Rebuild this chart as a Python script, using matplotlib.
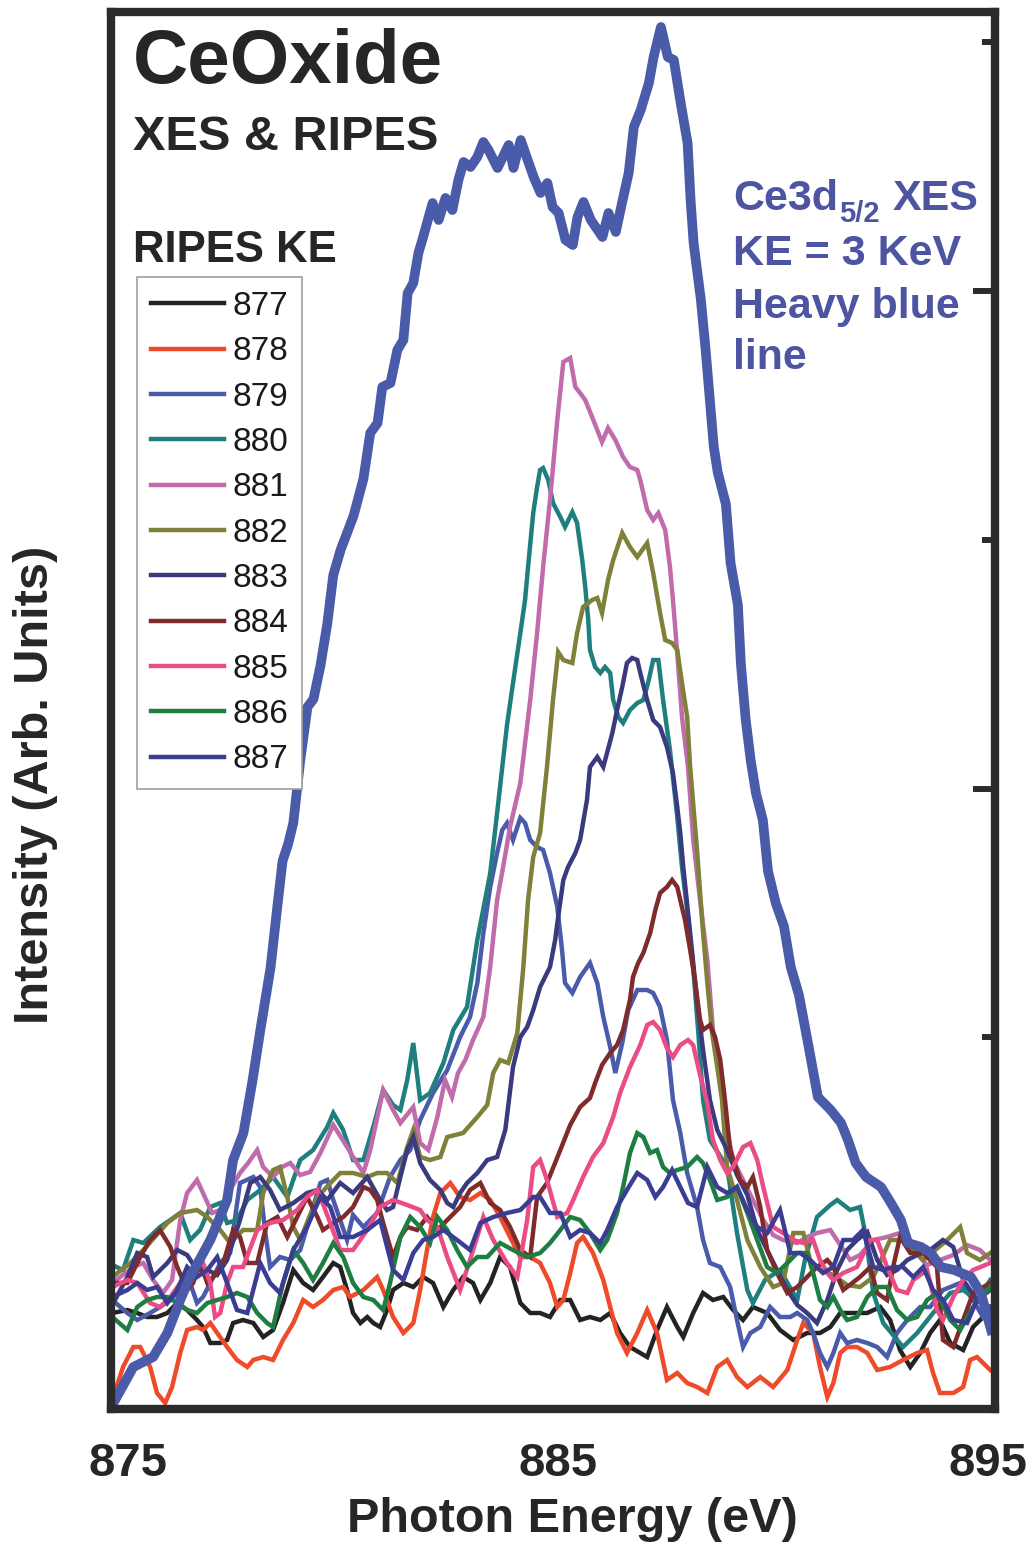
import matplotlib
matplotlib.use("Agg")
import matplotlib.pyplot as plt
from matplotlib.font_manager import FontProperties

plt.rcParams['font.family'] = ['Liberation Sans', 'DejaVu Sans']

# ---------------- data (photon energy in eV, intensity in arb. units) ----------------
ke_labels = ['877', '878', '879', '880', '881', '882', '883', '884', '885', '886', '887']
ke_colors = ['#232323', '#ee4b2b', '#4a5bab', '#1f7f7f', '#c06bab', '#7f8039',
             '#3a3a7e', '#7f2b2b', '#ea4c85', '#1e7e42', '#3b3d92']

x_xes = [874.63,875.12,875.58,875.91,876.21,876.44,876.91,877.30,877.44,877.68,
         877.89,878.07,878.31,878.47,878.59,878.72,878.84,879.00,879.17,879.31,
         879.47,879.63,879.77,879.94,880.24,880.47,880.63,880.80,880.91,881.10,
         881.26,881.40,881.50,881.63,881.75,881.84,882.08,882.22,882.38,882.54,
         882.68,882.80,882.96,883.12,883.26,883.38,883.59,883.85,883.96,884.13,
         884.29,884.43,884.59,884.75,884.87,885.01,885.17,885.34,885.45,885.59,
         885.76,886.03,886.17,886.34,886.50,886.64,886.76,886.92,887.11,887.22,
         887.39,887.55,887.69,887.85,888.01,888.08,888.15,888.32,888.43,888.62,
         888.71,888.90,889.01,889.18,889.25,889.36,889.48,889.60,889.76,889.88,
         890.06,890.25,890.41,890.60,890.81,891.04,891.34,891.58,891.74,891.92,
         892.16,892.51,892.74,892.97,893.14,893.44,893.67,893.90,894.21,894.60,
         894.83,895.07]
y_xes = [0.4,4.2,5.2,7.6,10.9,13.2,16.9,20.9,24.9,27.6,
         32.8,37.8,44.1,50.3,54.8,56.5,58.6,64.8,70.2,71.0,
         74.3,78.5,83.4,85.9,89.3,93.0,97.6,98.6,102.2,102.6,
         105.9,106.9,111.6,112.6,115.6,116.9,120.6,118.9,121.1,119.9,
         122.9,124.7,124.2,125.2,126.7,125.9,124.1,126.4,124.1,126.9,
         124.9,123.2,121.6,122.6,120.2,119.6,116.9,116.4,119.2,120.7,
         118.9,117.2,119.6,117.7,120.9,123.6,128.2,129.9,132.6,135.2,
         138.2,135.2,134.9,130.6,126.6,120.9,116.6,110.9,105.9,96.2,
         93.7,90.5,84.6,80.4,74.5,69.0,64.8,61.6,58.9,53.8,
         50.6,48.3,44.2,41.4,36.6,31.2,29.9,28.6,26.9,24.6,
         23.2,22.2,20.6,18.9,16.6,16.2,15.6,14.2,13.9,13.2,
         11.6,7.9]

x877 = [874.63,874.98,875.21,875.44,875.67,875.91,876.14,876.37,876.60,876.74,
        876.91,877.14,877.30,877.44,877.67,877.91,878.14,878.37,878.60,878.84,
        879.07,879.30,879.53,879.77,879.93,880.09,880.23,880.40,880.56,880.70,
        880.86,881.02,881.16,881.40,881.63,881.86,882.09,882.33,882.56,882.79,
        883.02,883.19,883.42,883.65,883.88,884.12,884.35,884.58,884.81,885.05,
        885.28,885.51,885.74,885.98,886.21,886.44,886.67,886.91,887.07,887.30,
        887.53,887.77,887.91,888.14,888.37,888.60,888.84,889.07,889.30,889.53,
        889.86,890.16,890.47,890.79,891.09,891.33,891.56,891.86,892.19,892.49,
        892.72,892.95,893.19,893.42,893.65,893.88,894.12,894.42,894.65,895.05]
y877 = [9.6,9.9,9.6,9.2,9.2,9.6,10.6,9.9,8.9,8.2,
        6.6,6.6,6.9,8.6,8.9,8.6,7.2,7.9,10.6,13.9,
        12.6,11.9,13.2,14.6,14.2,11.9,9.6,8.6,9.2,8.6,
        8.2,9.9,11.9,12.6,12.2,13.2,12.6,10.2,11.9,13.2,
        12.6,10.9,12.6,15.2,14.2,10.6,9.6,9.6,9.2,10.9,
        10.9,8.9,9.2,8.9,9.6,7.6,6.2,5.6,5.2,7.9,
        10.2,8.2,7.2,9.6,11.6,10.9,11.2,9.9,8.9,10.2,
        9.6,7.9,6.9,7.6,7.6,8.2,9.6,9.6,9.6,10.2,
        8.9,5.9,4.2,5.6,7.6,8.9,6.6,5.9,8.2,9.9]

x878 = [874.63,874.88,875.12,875.28,875.51,875.67,875.86,876.02,876.21,876.37,
        876.60,876.74,876.91,877.07,877.30,877.53,877.77,877.91,878.14,878.37,
        878.60,878.84,879.07,879.30,879.53,879.77,880.00,880.16,880.47,880.79,
        880.93,881.16,881.40,881.63,881.79,881.95,882.09,882.26,882.49,882.72,
        882.95,883.19,883.42,883.65,883.88,884.12,884.35,884.58,884.81,884.98,
        885.12,885.28,885.44,885.58,885.81,886.05,886.21,886.37,886.60,886.84,
        887.07,887.30,887.53,887.77,888.00,888.23,888.47,888.70,888.93,889.16,
        889.40,889.70,890.00,890.33,890.56,890.70,890.93,891.09,891.26,891.40,
        891.56,891.72,891.95,892.19,892.42,892.72,893.02,893.35,893.58,893.72,
        893.88,894.19,894.42,894.58,894.74,895.05]
y878 = [0.9,4.2,6.2,6.2,4.2,1.6,0.6,2.2,5.6,7.9,
        8.2,7.9,8.6,7.6,6.2,4.9,4.2,4.9,5.2,4.9,
        6.9,8.6,10.9,10.2,10.9,11.9,12.2,11.2,11.9,13.2,
        11.9,9.2,7.6,8.6,11.9,15.9,19.2,21.6,22.6,21.2,
        20.9,21.6,20.9,19.2,17.2,15.2,15.2,14.6,12.6,10.2,
        10.9,13.6,16.6,17.2,15.6,12.9,10.2,7.6,5.6,7.6,
        9.9,7.6,2.9,3.6,2.6,2.2,1.6,4.2,4.9,3.2,
        2.2,3.2,2.2,3.9,6.9,8.6,7.6,4.2,1.2,2.6,
        5.6,6.2,6.2,5.6,3.9,4.2,4.9,5.6,5.9,3.6,
        1.6,1.6,2.2,4.9,5.2,3.9]

x879 = [874.63,874.98,875.21,875.51,875.74,875.98,876.21,876.44,876.60,876.74,
        876.91,877.14,877.37,877.60,877.91,878.07,878.19,878.30,878.53,878.77,
        879.00,879.30,879.47,879.63,879.77,880.09,880.23,880.47,880.79,881.09,
        881.33,881.56,881.79,882.09,882.42,882.72,882.95,883.12,883.26,883.42,
        883.58,883.70,883.81,883.95,884.12,884.23,884.35,884.51,884.65,884.81,
        884.98,885.09,885.16,885.33,885.51,885.74,885.91,886.05,886.21,886.33,
        886.49,886.63,886.84,887.07,887.21,887.37,887.53,887.67,887.84,888.00,
        888.23,888.37,888.53,888.77,889.00,889.16,889.30,889.47,889.70,889.93,
        890.16,890.40,890.56,890.79,890.93,891.09,891.26,891.40,891.56,891.72,
        891.95,892.19,892.42,892.65,892.88,893.12,893.42,893.65,893.95,894.35,
        894.65,894.88,895.05]
y879 = [10.9,9.6,8.9,9.6,10.2,10.9,11.9,12.6,10.6,11.2,
        12.6,14.6,15.6,22.6,23.2,22.2,17.6,14.2,15.2,14.9,
        15.9,20.2,22.6,22.9,20.9,16.9,19.4,18.2,19.6,23.2,
        24.9,25.9,28.9,31.6,33.9,37.2,39.2,42.6,47.6,52.2,
        55.6,57.9,58.6,56.9,59.1,58.6,56.9,56.2,55.9,53.6,
        50.2,45.9,42.6,41.6,43.2,44.6,42.6,39.2,36.2,33.6,
        36.6,39.9,41.9,41.9,41.6,40.2,36.9,30.9,27.6,23.6,
        20.2,16.9,14.6,14.2,12.2,8.9,6.2,7.6,8.2,10.2,
        9.2,9.2,9.6,8.9,7.6,5.6,4.2,5.6,7.6,6.6,
        6.9,6.6,6.2,5.2,7.6,8.9,10.2,10.2,11.9,12.6,
        10.9,9.2,10.2]

x880 = [874.63,874.88,875.12,875.35,875.74,875.98,876.21,876.44,876.67,876.91,
        877.14,877.30,877.53,877.77,878.07,878.37,878.70,879.00,879.30,879.63,
        879.77,880.00,880.23,880.47,880.70,880.93,881.16,881.33,881.49,881.63,
        881.79,882.02,882.33,882.56,882.88,883.12,883.42,883.58,883.81,883.95,
        884.12,884.23,884.30,884.42,884.51,884.58,884.65,884.77,884.88,885.05,
        885.16,885.33,885.44,885.56,885.63,885.70,885.74,885.86,885.98,886.09,
        886.21,886.28,886.40,886.51,886.67,886.84,886.98,887.09,887.21,887.33,
        887.44,887.60,887.77,887.88,888.02,888.14,888.26,888.37,888.53,888.93,
        889.16,889.40,889.53,889.81,890.16,890.56,890.74,891.02,891.33,891.49,
        891.79,892.02,892.14,892.33,892.56,893.02,893.35,893.72,894.12,894.42,
        894.74,895.05]
y880 = [14.4,13.9,16.9,16.6,18.2,18.9,19.6,16.9,17.9,20.2,
        20.6,18.6,18.9,20.9,21.9,23.2,21.2,24.9,25.9,28.2,
        29.6,27.9,24.9,24.9,28.2,31.9,30.4,29.9,32.9,36.6,
        30.9,31.6,34.6,37.9,40.2,46.9,53.6,59.6,68.4,72.6,
        77.6,80.9,84.2,89.6,92.2,93.9,94.1,92.9,90.6,89.2,
        88.2,89.7,88.6,84.9,82.2,78.9,75.9,74.2,73.6,74.2,
        73.6,70.9,69.2,68.6,69.9,70.6,70.9,72.6,74.9,74.9,
        70.9,65.9,59.2,54.2,49.2,44.2,37.6,30.9,26.9,24.2,
        17.6,11.9,10.6,12.9,13.9,10.9,14.9,19.2,20.4,20.9,
        19.9,20.2,17.6,11.6,8.6,6.2,7.6,9.6,11.6,11.9,
        10.9,12.9]

x881 = [874.63,875.12,875.35,875.58,875.81,876.02,876.21,876.37,876.60,876.74,
        876.95,877.14,877.37,877.60,877.79,878.00,878.14,878.37,878.58,878.77,
        879.00,879.23,879.47,879.77,880.09,880.23,880.47,880.63,880.93,881.16,
        881.33,881.63,881.79,881.98,882.19,882.37,882.53,882.67,882.84,883.02,
        883.26,883.42,883.58,883.72,883.88,884.00,884.12,884.35,884.51,884.65,
        884.81,884.98,885.12,885.28,885.40,885.51,885.63,885.79,886.02,886.16,
        886.33,886.51,886.67,886.84,886.91,887.07,887.21,887.33,887.49,887.60,
        887.67,887.77,887.88,888.02,888.14,888.30,888.47,888.60,888.72,888.88,
        889.07,889.30,889.53,889.77,890.00,890.23,890.56,890.79,891.02,891.33,
        891.56,891.79,892.02,892.33,892.65,892.95,893.26,893.58,893.88,894.19,
        894.51,894.81,895.05]
y881 = [12.6,14.2,14.6,12.9,11.6,12.9,18.9,21.6,22.9,21.6,
        19.6,19.9,21.9,23.6,24.6,25.9,24.2,23.2,24.2,24.6,
        23.4,23.7,25.6,28.4,26.2,25.2,23.6,25.9,31.9,29.9,
        28.6,30.2,26.6,25.9,29.2,32.9,31.2,33.6,34.9,36.9,
        39.2,44.2,50.9,54.2,58.2,60.4,62.6,70.9,77.6,84.2,
        90.9,98.9,104.7,105.1,102.2,101.6,100.9,99.2,96.7,98.1,
        96.9,95.2,94.2,93.9,92.9,89.9,88.9,89.6,87.9,84.2,
        80.9,75.6,69.2,64.2,57.0,50.9,44.9,37.9,34.9,28.9,
        24.9,22.9,20.9,18.9,17.4,16.9,16.6,17.2,17.6,17.9,
        16.4,14.9,15.4,16.9,17.2,17.6,15.9,14.4,14.9,15.4,
        16.4,15.9,14.9]

x882 = [874.63,875.05,875.35,875.91,876.21,876.60,876.84,877.14,877.37,877.67,
        878.00,878.14,878.37,878.53,878.70,878.84,879.00,879.23,879.40,879.77,
        879.93,880.23,880.56,880.79,881.02,881.26,881.49,881.63,881.79,882.02,
        882.26,882.42,882.79,883.12,883.35,883.49,883.65,883.84,884.05,884.19,
        884.30,884.42,884.58,884.74,884.88,885.00,885.12,885.33,885.44,885.58,
        885.79,885.91,886.02,886.16,886.28,886.49,886.67,886.84,887.07,887.21,
        887.37,887.49,887.65,887.77,887.88,888.00,888.07,888.23,888.37,888.47,
        888.58,888.70,888.81,888.93,889.16,889.40,889.70,890.00,890.23,890.47,
        890.70,890.86,891.09,891.40,891.72,892.02,892.33,892.72,893.02,893.49,
        894.05,894.35,894.51,894.81,895.05]
y882 = [13.2,14.6,15.9,18.6,19.6,19.9,19.2,17.9,16.6,17.9,
        17.9,21.6,23.9,24.2,21.2,18.2,16.9,19.4,21.2,22.9,
        23.6,23.6,23.2,23.6,23.6,22.6,26.2,27.9,25.2,24.9,
        25.2,27.2,27.6,29.2,30.4,33.6,34.9,34.6,37.6,44.2,
        50.9,55.2,57.6,64.2,70.9,75.7,74.9,74.6,77.6,80.2,
        80.9,81.1,79.6,82.9,84.9,87.6,86.2,85.2,86.6,83.6,
        79.6,76.9,76.6,75.9,72.6,69.2,64.2,55.9,47.6,42.6,
        37.6,34.2,30.9,24.2,20.9,16.9,14.2,12.2,12.6,17.6,
        17.6,14.9,13.9,13.4,12.4,12.2,13.2,16.9,16.9,14.9,
        16.9,18.2,15.6,14.9,15.6]

x883 = [874.63,874.98,875.21,875.44,875.58,875.91,876.14,876.37,876.60,876.84,
        877.07,877.30,877.60,877.84,878.07,878.30,878.53,878.84,879.16,879.40,
        879.63,879.93,880.23,880.56,880.86,881.02,881.16,881.33,881.49,881.63,
        881.79,882.02,882.26,882.42,882.56,882.72,882.88,883.12,883.35,883.58,
        883.77,883.95,884.12,884.28,884.42,884.58,884.81,884.93,885.00,885.12,
        885.23,885.40,885.51,885.67,885.74,885.91,886.05,886.26,886.37,886.49,
        886.60,886.72,886.84,886.91,887.07,887.21,887.37,887.53,887.67,887.77,
        887.84,887.91,888.07,888.23,888.37,888.53,888.70,888.93,889.16,889.40,
        889.63,889.86,890.09,890.33,890.56,890.79,891.02,891.26,891.49,891.72,
        891.95,892.19,892.42,892.65,892.88,893.12,893.35,893.65,893.95,894.19,
        894.42,894.74,895.05]
y883 = [10.4,13.2,15.6,15.2,13.2,14.6,15.9,15.4,13.9,13.9,
        13.4,14.9,18.9,22.6,23.2,21.9,19.9,20.6,21.6,21.9,
        20.9,22.6,21.6,23.2,20.9,19.9,20.2,23.2,25.9,27.2,
        24.6,22.9,21.9,20.6,20.2,21.6,22.6,23.6,24.9,25.2,
        27.9,34.2,37.2,38.2,39.9,42.2,44.2,46.9,49.2,52.9,
        54.2,55.6,56.9,60.9,64.2,65.2,64.2,67.6,69.9,72.2,
        74.6,75.1,74.9,73.6,70.9,68.9,68.2,66.2,63.6,60.2,
        57.6,54.2,47.6,40.9,35.9,30.9,27.9,25.9,23.4,21.4,
        17.9,15.9,13.9,11.9,10.4,9.6,8.6,10.9,13.9,15.9,
        16.9,17.7,14.9,13.4,13.9,14.9,15.4,15.9,16.9,16.2,
        12.9,10.9,11.9]

x884 = [874.63,874.98,875.28,875.51,875.74,875.98,876.14,876.37,876.51,876.67,
        876.84,876.98,877.21,877.44,877.60,877.77,878.00,878.23,878.47,878.70,
        878.93,879.16,879.40,879.53,879.77,880.00,880.23,880.47,880.63,880.79,
        880.93,881.16,881.33,881.49,881.72,881.95,882.19,882.42,882.72,882.95,
        883.19,883.42,883.65,883.88,884.12,884.35,884.51,884.74,885.05,885.28,
        885.51,885.74,885.86,886.02,886.21,886.37,886.51,886.67,886.74,886.86,
        886.98,887.14,887.26,887.37,887.53,887.65,887.77,887.84,887.95,888.07,
        888.19,888.30,888.37,888.53,888.65,888.77,888.88,889.00,889.23,889.40,
        889.53,889.70,889.86,890.09,890.33,890.56,890.79,891.02,891.26,891.40,
        891.63,892.02,892.26,892.42,892.65,892.79,892.95,893.19,893.49,893.81,
        893.95,894.19,894.42,894.65,895.05]
y884 = [12.6,12.6,15.2,16.9,17.9,16.2,14.2,11.9,12.6,14.6,
        12.6,13.2,14.6,17.9,17.2,14.6,14.6,18.6,19.2,17.2,
        19.2,21.2,19.2,17.9,18.6,19.2,20.2,22.2,21.9,20.9,
        18.6,15.2,17.2,18.2,17.9,19.2,17.9,18.9,20.2,21.9,
        22.6,20.6,19.9,18.2,15.9,15.2,21.2,22.6,25.9,28.4,
        30.2,31.1,32.6,34.4,35.6,36.4,37.9,40.9,43.2,44.6,
        45.6,47.6,49.9,51.6,52.2,52.9,52.2,50.9,48.9,45.9,
        42.6,38.9,37.9,38.4,37.2,34.9,30.9,25.9,22.9,22.2,
        23.2,20.2,15.9,13.6,11.6,12.2,13.2,14.2,14.9,14.2,
        11.9,13.2,14.2,11.6,10.9,14.2,17.2,15.6,15.6,14.2,
        6.9,6.2,8.9,11.6,12.6]

x885 = [874.63,874.98,875.21,875.51,875.74,875.98,876.21,876.44,876.60,876.74,
        876.91,877.02,877.14,877.30,877.44,877.67,878.00,878.30,878.60,878.93,
        879.16,879.40,879.63,879.93,880.23,880.56,880.86,881.16,881.49,881.79,
        881.95,882.19,882.42,882.72,882.95,883.26,883.49,883.81,884.05,884.28,
        884.42,884.58,884.74,884.98,885.21,885.35,885.58,885.81,886.05,886.28,
        886.44,886.67,886.91,887.07,887.21,887.37,887.53,887.67,887.84,888.02,
        888.14,888.30,888.47,888.60,888.77,888.93,889.07,889.30,889.47,889.63,
        889.77,890.00,890.23,890.47,890.70,890.93,891.09,891.26,891.40,891.63,
        891.95,892.26,892.42,892.65,892.88,893.12,893.26,893.58,893.81,893.95,
        894.19,894.42,894.65,895.05]
y885 = [12.2,12.9,12.6,10.6,10.2,11.2,12.6,13.2,14.2,14.6,
        12.6,9.2,9.6,12.6,14.2,14.2,17.9,18.6,18.9,19.9,
        21.2,21.9,19.4,15.9,15.9,17.9,20.2,20.9,20.4,19.9,
        18.9,18.2,15.2,11.9,14.9,19.2,16.9,14.6,13.2,18.9,
        24.2,24.9,22.9,19.2,19.6,20.9,23.2,25.2,26.6,29.2,
        31.6,34.2,36.4,38.4,38.7,37.9,36.1,35.2,36.4,36.9,
        36.4,33.4,30.6,26.9,24.9,23.6,24.2,26.2,26.6,24.9,
        22.2,18.2,17.6,16.9,16.6,16.9,14.9,13.6,12.9,13.6,
        14.2,16.9,16.9,14.2,11.9,11.6,12.9,13.9,9.9,8.9,
        11.2,12.9,13.9,14.6]

x886 = [874.63,874.98,875.21,875.44,875.67,875.91,876.14,876.37,876.60,876.84,
        877.07,877.30,877.53,877.77,878.00,878.23,878.37,878.60,878.84,879.07,
        879.30,879.53,879.77,880.00,880.23,880.47,880.70,880.93,881.09,881.33,
        881.56,881.79,882.02,882.19,882.42,882.65,882.88,883.12,883.35,883.65,
        883.95,884.28,884.58,884.81,885.05,885.28,885.51,885.74,885.98,886.14,
        886.37,886.51,886.67,886.84,886.98,887.14,887.30,887.44,887.60,887.77,
        888.00,888.23,888.37,888.53,888.70,888.93,889.16,889.40,889.63,889.86,
        890.09,890.33,890.56,890.79,890.93,891.09,891.26,891.40,891.56,891.72,
        891.95,892.19,892.42,892.65,892.88,893.12,893.35,893.58,893.81,894.12,
        894.35,894.65,895.05]
y886 = [9.2,7.9,10.2,10.9,11.2,11.2,10.6,9.9,9.6,10.6,
        10.9,11.2,11.6,11.2,9.6,8.6,8.2,12.6,15.9,14.6,
        12.9,14.6,16.6,15.2,12.6,11.2,10.9,9.9,12.6,17.2,
        19.2,18.2,16.6,19.2,17.9,15.9,14.2,15.2,15.2,16.6,
        15.9,15.2,15.6,16.6,17.9,19.2,18.9,17.6,15.9,16.9,
        19.6,22.2,25.6,27.6,27.2,25.6,25.9,24.2,23.6,23.9,
        24.2,25.2,24.6,22.9,20.9,21.2,22.2,19.6,16.9,14.2,
        13.6,14.6,15.6,15.6,13.6,10.9,10.2,11.2,9.9,8.9,
        9.2,11.2,12.2,12.2,9.9,8.9,9.2,10.9,11.6,8.9,
        7.9,10.2,12.2]

x887 = [874.63,874.98,875.21,875.44,875.67,875.91,876.14,876.37,876.60,876.84,
        877.07,877.30,877.53,877.77,878.07,878.30,878.53,878.84,879.16,879.47,
        879.70,879.93,880.23,880.56,880.86,881.16,881.40,881.63,881.86,882.09,
        882.33,882.65,882.95,883.19,883.49,883.81,884.12,884.42,884.58,884.81,
        885.05,885.28,885.51,885.74,885.98,886.14,886.37,886.60,886.84,887.07,
        887.26,887.44,887.65,887.84,888.02,888.23,888.47,888.70,888.93,889.16,
        889.40,889.63,889.86,890.16,890.40,890.63,890.86,891.02,891.16,891.40,
        891.63,891.86,892.09,892.33,892.56,892.79,893.02,893.26,893.49,893.72,
        893.95,894.19,894.51,894.74,895.05]
y887 = [11.2,11.9,12.6,11.9,12.2,10.6,11.9,14.2,13.2,13.9,
        15.2,12.6,9.9,9.6,14.6,12.6,11.6,15.9,18.2,21.2,
        20.2,17.2,17.2,17.9,18.9,13.9,12.9,15.6,16.9,17.2,
        17.9,16.9,15.9,18.6,19.2,19.6,19.9,21.2,21.2,19.6,
        19.6,17.2,17.9,17.6,16.6,17.9,20.2,21.9,23.6,22.9,
        21.2,22.2,23.9,22.2,20.6,20.2,24.2,22.2,21.6,22.2,
        19.9,18.2,17.6,19.9,15.6,15.6,14.9,14.2,13.6,14.2,
        16.9,16.9,17.9,14.2,13.9,14.2,14.2,13.2,14.2,11.9,
        10.9,8.9,8.6,10.9,10.2]

series_x = [x877, x878, x879, x880, x881, x882, x883, x884, x885, x886, x887]
series_y = [y877, y878, y879, y880, y881, y882, y883, y884, y885, y886, y887]

x_ticks = [875, 885, 895]
y_major_ticks = [62.0, 111.8]
y_minor_ticks = [37.2, 86.9, 136.7]

# ---------------- figure ----------------
W, H = 1027, 1547
fig = plt.figure(figsize=(W / 100, H / 100), dpi=100)
ax = fig.add_axes([111 / W, 138 / H, 884 / W, 1397.5 / H])

handles = []
for xs, ys, c, lab in zip(series_x, series_y, ke_colors, ke_labels):
    n = min(len(xs), len(ys))
    ln, = ax.plot(xs[:n], ys[:n], color=c, lw=3.2, label=lab,
                  solid_joinstyle='miter')
    handles.append(ln)

n = min(len(x_xes), len(y_xes))
ax.plot(x_xes[:n], y_xes[:n], color='#4a5ba9', lw=7.0, solid_joinstyle='round',
        zorder=3)

ax.set_xlim(874.60, 895.16)
ax.set_ylim(0, 139.75)

spine_col = '#2b2b2b'
for s in ax.spines.values():
    s.set_linewidth(6.0)
    s.set_color(spine_col)
    s.set_zorder(5)

ax.set_xticks(x_ticks)
ax.set_xticklabels([str(t) for t in x_ticks])
ax.tick_params(axis='x', length=0, pad=24, labelsize=34, labelcolor='#262626')
for lbl in ax.get_xticklabels():
    lbl.set_fontweight('bold')

ax.yaxis.tick_right()
ax.set_yticks(y_major_ticks)
ax.set_yticks(y_minor_ticks, minor=True)
ax.tick_params(axis='y', which='major', direction='in', length=16, width=4.3,
               color=spine_col, right=True, left=False, labelright=False,
               labelleft=False)
ax.tick_params(axis='y', which='minor', direction='in', length=9.5, width=4.3,
               color=spine_col, right=True, left=False)

# axis labels
fig.text(572 / W, 1 - 1532 / H, 'Photon Energy (eV)', ha='center', va='baseline',
         fontsize=35, fontweight='bold', color='#262626')
fig.text(36 / W, 1 - 785 / H, 'Intensity (Arb. Units)', ha='center', va='center',
         rotation=90, fontsize=35, fontweight='bold', color='#262626')

# titles
fig.text(133 / W, 1 - 83 / H, 'CeOxide', ha='left', va='baseline', fontsize=55,
         fontweight='bold', color='#262626')
fig.text(133 / W, 1 - 150 / H, 'XES & RIPES', ha='left', va='baseline', fontsize=35,
         fontweight='bold', color='#262626')
fig.text(133 / W, 1 - 262 / H, 'RIPES KE', ha='left', va='baseline', fontsize=31.5,
         fontweight='bold', color='#262626')

# XES annotation
bc = '#4d55a3'
fig.text(733 / W, 1 - 210 / H, 'Ce3d', ha='left', va='baseline', fontsize=31,
         fontweight='bold', color=bc)
fig.text(839 / W, 1 - 222 / H, '5/2', ha='left', va='baseline', fontsize=21,
         fontweight='bold', color=bc)
fig.text(893 / W, 1 - 210 / H, 'XES', ha='left', va='baseline', fontsize=31,
         fontweight='bold', color=bc)
fig.text(733 / W, 1 - 265 / H, 'KE = 3 KeV', ha='left', va='baseline', fontsize=31,
         fontweight='bold', color=bc)
fig.text(733 / W, 1 - 318 / H, 'Heavy blue', ha='left', va='baseline', fontsize=31,
         fontweight='bold', color=bc)
fig.text(733 / W, 1 - 369 / H, 'line', ha='left', va='baseline', fontsize=31,
         fontweight='bold', color=bc)

# legend
leg_font = FontProperties(family=['Liberation Sans Narrow', 'Liberation Sans'], size=24)
leg = ax.legend(handles=handles, labels=ke_labels, loc='upper left',
                bbox_to_anchor=(137 / W, 1 - 277 / H), bbox_transform=fig.transFigure,
                borderaxespad=0, frameon=True, fancybox=False, framealpha=1,
                edgecolor='#a0a0a0', prop=leg_font, handlelength=2.2,
                handletextpad=0.24, labelspacing=0.43, borderpad=0.42)
leg.get_frame().set_linewidth(1.2)
leg.set_zorder(6)
for t in leg.get_texts():
    t.set_color('#1a1a1a')

fig.savefig('out.png', dpi=100)
